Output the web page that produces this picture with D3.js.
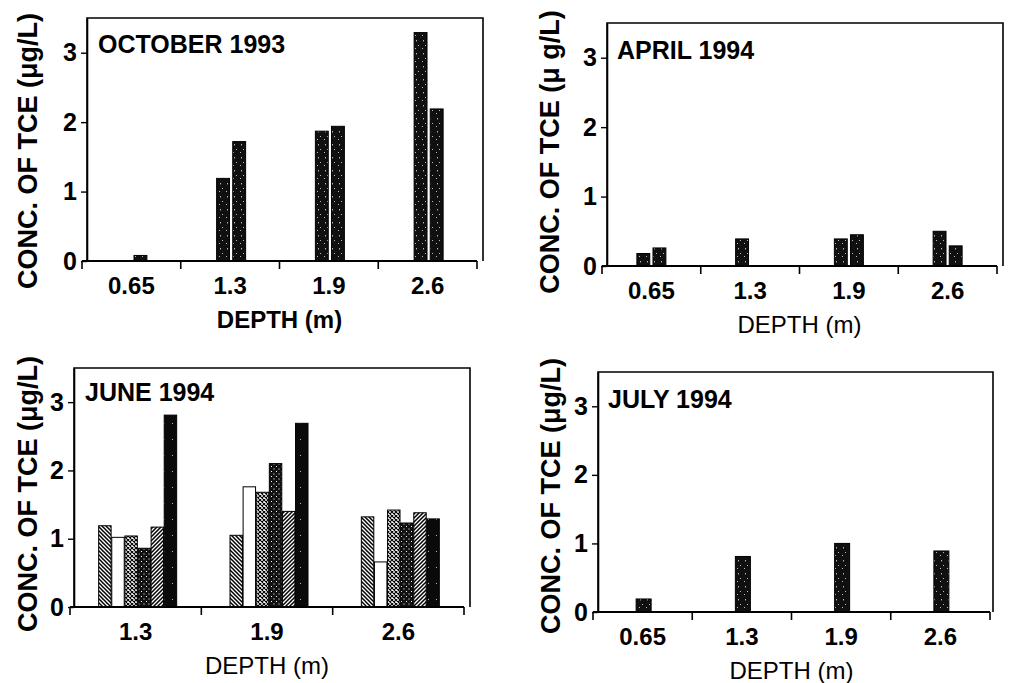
<!DOCTYPE html>
<html>
<head>
<meta charset="utf-8">
<script src="https://cdn.jsdelivr.net/npm/d3@7"></script>
<style>
  body { margin: 0; background: #fff; }
  svg { display: block; font-family: "Liberation Sans", Arial, sans-serif; }
</style>
</head>
<body>
<script>
// Depth categories (m)
const depthsFour = ['0.65', '1.3', '1.9', '2.6'];
const depthsJune = ['1.3', '1.9', '2.6'];
const yTicks = [0, 1, 2, 3];

// October 1993, two samples per depth
const octFirst = [0, 1.19, 1.87, 3.29];
const octSecond = [0.08, 1.72, 1.94, 2.19];

// April 1994
const aprFirst = [0.18, 0.39, 0.39, 0.50];
const aprSecond = [0.26, 0, 0.45, 0.29];

// June 1994, six samples per depth
const juneS1 = [1.19, 1.05, 1.32];
const juneS2 = [1.02, 1.76, 0.66];
const juneS3 = [1.04, 1.68, 1.42];
const juneS4 = [0.86, 2.10, 1.23];
const juneS5 = [1.17, 1.40, 1.38];
const juneS6 = [2.81, 2.69, 1.29];

// July 1994, one sample per depth
const julyOnly = [0.19, 0.81, 1.00, 0.89];

const panels = [
  {
    title: 'OCTOBER 1993', unit: '(μg/L)', cats: depthsFour,
    series: [octFirst, octSecond], fills: ['speckle', 'speckle'],
    box: { left: 87, right: 483, top: 18, zero: 261 }, xr: [82, 477],
    groupW: 29, pad: 0.2, shift: 1,
    title_xy: [98, 53], ylab_xy: [37, 151], depthBold: true
  },
  {
    title: 'APRIL 1994', unit: '(μ g/L)', cats: depthsFour,
    series: [aprFirst, aprSecond], fills: ['speckle', 'speckle'],
    box: { left: 607, right: 1003, top: 23, zero: 266 }, xr: [602, 997],
    groupW: 29, pad: 0.2, shift: 0,
    title_xy: [617, 59], ylab_xy: [559, 152], depthBold: false
  },
  {
    title: 'JUNE 1994', unit: '(μg/L)', cats: depthsJune,
    series: [juneS1, juneS2, juneS3, juneS4, juneS5, juneS6],
    fills: ['hatchBack', 'plain', 'cross', 'darkDots', 'hatchFwd', 'solid'],
    box: { left: 74, right: 470, top: 368, zero: 607 }, xr: [70, 464],
    groupW: 78, pad: 0.05, shift: 2,
    title_xy: [85, 401], ylab_xy: [37, 494], depthBold: false
  },
  {
    title: 'JULY 1994', unit: '(μg/L)', cats: depthsFour,
    series: [julyOnly], fills: ['speckle'],
    box: { left: 598, right: 993, top: 372, zero: 612 }, xr: [593, 990],
    groupW: 15, pad: 0, shift: 1,
    title_xy: [608, 408], ylab_xy: [560, 496], depthBold: false
  }
];

const svg = d3.select('body').append('svg')
  .attr('width', 1015)
  .attr('height', 683);

svg.append('rect').attr('width', 1015).attr('height', 683).attr('fill', '#fff');

// Fill patterns
const defs = svg.append('defs');

const speckle = defs.append('pattern').attr('id', 'speckle')
  .attr('patternUnits', 'userSpaceOnUse').attr('width', 7).attr('height', 13);
speckle.append('rect').attr('width', 7).attr('height', 13).attr('fill', '#101010');
[[3, 1, 1, 1.4], [5, 6, 1, 1], [2, 9, 1, 1]].forEach(([x, y, w, h]) => {
  speckle.append('rect').attr('x', x).attr('y', y).attr('width', w).attr('height', h).attr('fill', '#bbb');
});

const darkDots = defs.append('pattern').attr('id', 'darkDots')
  .attr('patternUnits', 'userSpaceOnUse').attr('width', 5).attr('height', 5);
darkDots.append('rect').attr('width', 5).attr('height', 5).attr('fill', '#111');
[[1, 1], [3.5, 3.5]].forEach(([x, y]) => {
  darkDots.append('rect').attr('x', x).attr('y', y).attr('width', 1).attr('height', 1).attr('fill', '#fff');
});

const solid = defs.append('pattern').attr('id', 'solid')
  .attr('patternUnits', 'userSpaceOnUse').attr('width', 8).attr('height', 16);
solid.append('rect').attr('width', 8).attr('height', 16).attr('fill', '#0a0a0a');
solid.append('rect').attr('x', 4).attr('y', 7).attr('width', 1).attr('height', 1).attr('fill', '#bbb');

const hatchBack = defs.append('pattern').attr('id', 'hatchBack')
  .attr('patternUnits', 'userSpaceOnUse').attr('width', 4).attr('height', 4);
hatchBack.append('rect').attr('width', 4).attr('height', 4).attr('fill', '#fff');
hatchBack.append('path').attr('d', 'M-1,-1L5,5M-1,3L1,5M3,-1L5,1')
  .attr('stroke', '#000').attr('stroke-width', 1.5);

const hatchFwd = defs.append('pattern').attr('id', 'hatchFwd')
  .attr('patternUnits', 'userSpaceOnUse').attr('width', 4).attr('height', 4);
hatchFwd.append('rect').attr('width', 4).attr('height', 4).attr('fill', '#fff');
hatchFwd.append('path').attr('d', 'M-1,5L5,-1M-1,1L1,-1M3,5L5,3')
  .attr('stroke', '#000').attr('stroke-width', 1.5);

const cross = defs.append('pattern').attr('id', 'cross')
  .attr('patternUnits', 'userSpaceOnUse').attr('width', 4).attr('height', 4);
cross.append('rect').attr('width', 4).attr('height', 4).attr('fill', '#fff');
cross.append('path').attr('d', 'M0,0L4,4M4,0L0,4')
  .attr('stroke', '#000').attr('stroke-width', 1.1);

const fillFor = name => (name === 'plain' ? '#fff' : `url(#${name})`);

panels.forEach((p) => {
  const { left, right, top, zero } = p.box;
  const g = svg.append('g');

  const y = d3.scaleLinear().domain([0, 3.5]).range([zero, top]);
  const x = d3.scaleBand().domain(p.cats).range(p.xr);
  const x1 = d3.scaleBand()
    .domain(d3.range(p.series.length))
    .range([-p.groupW / 2, p.groupW / 2])
    .paddingInner(p.pad);

  // Bars
  p.series.forEach((vals, si) => {
    g.append('g')
      .selectAll('rect')
      .data(vals.map((v, i) => ({ cat: p.cats[i], v })).filter(d => d.v > 0))
      .enter()
      .append('rect')
      .attr('x', d => x(d.cat) + x.bandwidth() / 2 + p.shift + x1(si))
      .attr('width', x1.bandwidth())
      .attr('y', d => y(d.v))
      .attr('height', d => y(0) - y(d.v))
      .attr('fill', fillFor(p.fills[si]))
      .attr('stroke', '#000')
      .attr('stroke-width', 1);
  });

  // Frame (top and right edges)
  g.append('path')
    .attr('d', `M${left},${zero}V${top}H${right}V${zero}`)
    .attr('fill', 'none')
    .attr('stroke', '#000')
    .attr('stroke-width', 1.6);

  // Y axis
  const yAxis = d3.axisLeft(y)
    .tickValues(yTicks)
    .tickFormat(d3.format('d'))
    .tickSize(6)
    .tickPadding(4)
    .tickSizeOuter(0);
  const ya = g.append('g')
    .attr('transform', `translate(${left}, 0)`)
    .call(yAxis);
  ya.select('.domain').attr('stroke-width', 1.6);
  ya.selectAll('.tick line').attr('stroke-width', 1.4);
  ya.selectAll('.tick text')
    .style('font-size', '25px')
    .style('font-weight', 'bold')
    .attr('fill', '#000');

  // X axis: labels at band centres, tick marks at band edges
  const xAxis = d3.axisBottom(x).tickSize(0).tickPadding(16).tickSizeOuter(0);
  const xa = g.append('g')
    .attr('transform', `translate(0, ${zero})`)
    .call(xAxis);
  xa.select('.domain').remove();
  xa.selectAll('.tick text')
    .style('font-size', '24px')
    .style('font-weight', 'bold')
    .attr('fill', '#000');

  g.append('line')
    .attr('x1', p.xr[0]).attr('x2', p.xr[1])
    .attr('y1', zero).attr('y2', zero)
    .attr('stroke', '#000').attr('stroke-width', 2);

  const edges = p.cats.map(c => x(c)).concat([x.range()[1]]);
  g.append('g')
    .selectAll('line')
    .data(edges)
    .enter()
    .append('line')
    .attr('x1', d => d).attr('x2', d => d)
    .attr('y1', zero).attr('y2', zero + 8)
    .attr('stroke', '#000')
    .attr('stroke-width', 1.6);

  // Axis titles
  g.append('text')
    .attr('x', (p.xr[0] + p.xr[1]) / 2)
    .attr('y', zero + 67)
    .attr('text-anchor', 'middle')
    .style('font-size', '24px')
    .style('font-weight', p.depthBold ? 'bold' : 'normal')
    .text('DEPTH (m)');

  g.append('text')
    .attr('transform', `translate(${p.ylab_xy[0]}, ${p.ylab_xy[1]}) rotate(-90)`)
    .attr('text-anchor', 'middle')
    .style('font-size', '27px')
    .style('font-weight', 'bold')
    .text(`CONC. OF TCE ${p.unit}`);

  // Panel title
  g.append('text')
    .attr('x', p.title_xy[0])
    .attr('y', p.title_xy[1])
    .style('font-size', '25px')
    .style('font-weight', 'bold')
    .text(p.title);
});
</script>
</body>
</html>
